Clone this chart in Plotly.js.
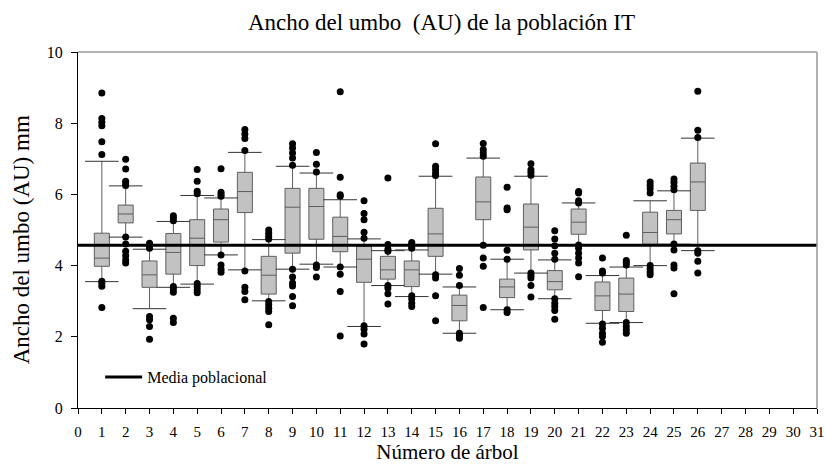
<!DOCTYPE html>
<html>
<head>
<meta charset="utf-8">
<script src="https://cdn.plot.ly/plotly-3.0.1.min.js"></script>
<style>html,body{margin:0;padding:0;background:#fff;}#chart{width:826px;height:466px;}</style>
</head>
<body>
<div id="chart"></div>
<script>
// ---- Data ----
const trees = [1,2,3,4,5,6,7,8,9,10,11,12,13,14,15,16,17,18,19,20,21,22,23,24,25,26];
const q1 =        [3.98,5.20,3.39,3.76,4.00,4.66,5.49,3.20,4.35,4.74,4.39,3.53,3.62,3.41,4.26,2.45,5.29,3.10,4.44,3.32,4.88,2.74,2.71,4.60,4.89,5.55];
const medians =   [4.21,5.45,3.74,4.37,4.77,5.29,6.08,3.73,5.64,5.66,4.82,4.18,3.88,3.88,4.89,2.88,5.79,3.40,5.08,3.55,5.22,3.15,3.20,4.93,5.29,6.35];
const q3 =        [4.91,5.70,4.13,4.90,5.29,5.59,6.62,4.26,6.17,6.17,5.36,4.54,4.26,4.13,5.61,3.17,6.49,3.62,5.73,3.86,5.59,3.54,3.65,5.50,5.55,6.88];
const lowerWhisker = [3.55,4.80,2.79,3.39,3.48,4.30,3.88,3.01,3.90,4.04,3.96,2.29,3.44,3.13,3.76,2.10,4.57,2.76,3.79,3.07,4.58,2.38,2.40,4.00,4.60,4.42];
const upperWhisker = [6.93,6.24,4.46,5.24,5.97,5.90,7.18,4.73,6.79,6.60,5.85,4.75,4.42,4.44,6.51,3.40,7.02,4.18,6.51,4.16,5.76,3.72,3.96,5.82,6.10,7.58];
const outliers = [
  [8.85,8.13,8.03,7.93,7.48,7.12,3.56,3.50,3.42,2.82],
  [6.99,6.71,6.37,6.30,6.25,4.80,4.61,4.40,4.28,4.16,4.07],
  [4.63,4.56,4.49,2.57,2.48,2.29,1.93],
  [5.40,5.34,5.26,3.41,3.34,3.25,2.52,2.40],
  [6.70,6.37,6.09,6.02,3.50,3.41,3.32,3.24],
  [6.72,6.06,6.00,5.95,4.30,4.02,3.90,3.81],
  [7.82,7.70,7.57,7.23,3.85,3.39,3.27,3.04],
  [5.00,4.91,4.82,4.75,2.99,2.90,2.80,2.71,2.34],
  [7.42,7.30,7.16,7.02,6.82,3.90,3.68,3.51,3.43,3.13,2.87],
  [7.18,6.85,6.63,4.02,3.95,3.68],
  [8.88,6.48,5.99,5.95,3.96,3.76,3.27,2.02],
  [5.82,5.46,5.29,4.94,4.77,2.31,2.21,2.08,1.80],
  [6.46,4.59,4.46,4.40,3.44,3.37,3.21,2.92],
  [4.65,4.59,4.54,4.49,3.15,3.06,2.94,2.85],
  [7.42,6.79,6.70,6.60,6.53,3.74,3.65,3.15,2.45],
  [3.92,3.73,3.44,2.10,2.03,1.96],
  [7.43,7.26,7.16,7.07,4.57,4.21,3.98,2.82],
  [6.20,5.62,5.57,4.43,4.18,2.76,2.68],
  [6.86,6.69,6.62,6.54,3.79,3.72,3.65,3.44,3.12],
  [4.98,4.75,4.56,4.35,4.18,3.07,2.94,2.85,2.74,2.49],
  [6.08,6.04,5.82,5.76,4.58,4.49,4.35,4.21,4.07,3.69],
  [4.21,3.85,3.79,2.36,2.24,2.10,2.01,1.85],
  [4.85,4.14,4.09,4.02,2.40,2.29,2.19,2.10],
  [6.35,6.25,6.16,6.04,4.00,3.91,3.82,3.74],
  [6.43,6.34,6.23,6.13,4.61,4.44,4.02,3.93,3.21],
  [8.90,7.80,7.60,4.42,4.35,4.12,3.79]
];
const populationMean = 4.57;
const xTicks = Array.from({length: 32}, (_, i) => i);
const yTicks = [0, 2, 4, 6, 8, 10];

// ---- Build traces ----
const serif = 'Liberation Serif, Times New Roman, serif';
const outX = [], outY = [];
outliers.forEach((vals, i) => vals.forEach(v => { outX.push(trees[i]); outY.push(v); }));

const boxTrace = {
  type: 'box', x: trees, q1: q1, median: medians, q3: q3,
  lowerfence: lowerWhisker, upperfence: upperWhisker,
  boxpoints: false, width: 0.63, whiskerwidth: 0,
  fillcolor: '#c2c2c2', line: {color: '#5e5e5e', width: 1},
  showlegend: false, hoverinfo: 'skip'
};
const capTrace = {
  type: 'scatter', mode: 'markers',
  x: trees.concat(trees), y: lowerWhisker.concat(upperWhisker),
  marker: {symbol: 'line-ew', size: 24, line: {width: 1, color: '#333'}},
  showlegend: false, hoverinfo: 'skip'
};
const outTrace = {
  type: 'scatter', mode: 'markers', x: outX, y: outY,
  marker: {symbol: 'circle', size: 7, color: '#000'},
  showlegend: false, hoverinfo: 'skip'
};
const meanTrace = {
  type: 'scatter', mode: 'lines', x: [xTicks[0], xTicks[xTicks.length-1]], y: [populationMean, populationMean],
  line: {color: '#000', width: 3}, name: 'Media poblacional', showlegend: true, hoverinfo: 'skip'
};

const layout = {
  width: 826, height: 466,
  margin: {l: 78, r: 9, t: 52, b: 58},
  paper_bgcolor: '#fff', plot_bgcolor: '#fff',
  font: {family: serif, color: '#000', size: 15},
  title: {text: 'Ancho del umbo  (AU) de la población IT', font: {family: serif, size: 23, color: '#000'},
          x: 0.5345, xanchor: 'center', y: 0.953, yanchor: 'middle', xref: 'container', yref: 'container'},
  xaxis: {range: [0, 31], tickmode: 'array', tickvals: xTicks, ticktext: xTicks.map(String),
          ticks: 'outside', ticklen: 5, tickcolor: '#000', showline: true, linecolor: '#000', linewidth: 1,
          ticklabelstandoff: 5,
          showgrid: false, zeroline: false, tickfont: {family: serif, size: 15},
          title: {text: 'Número de árbol', font: {family: serif, size: 21}, standoff: 5}},
  yaxis: {range: [0, 10], tickmode: 'array', tickvals: yTicks, ticktext: yTicks.map(String),
          ticks: 'outside', ticklen: 6, tickcolor: '#000', showline: true, linecolor: '#000', linewidth: 1,
          ticklabelstandoff: 5,
          showgrid: false, zeroline: false, tickfont: {family: serif, size: 16}},
  annotations: [
    {text: 'Ancho del umbo (AU) mm', xref: 'paper', yref: 'paper', x: 0, y: 0.471,
     xanchor: 'center', yanchor: 'middle', xshift: -57, textangle: -90, showarrow: false,
     font: {family: serif, size: 23, color: '#000'}}
  ],
  showlegend: true,
  legend: {x: 0.03, y: 0.087, xanchor: 'left', yanchor: 'middle', bgcolor: 'rgba(0,0,0,0)',
           itemwidth: 37, font: {family: serif, size: 16}},
  shapes: [
    {type: 'line', xref: 'paper', yref: 'paper', x0: 0, x1: 1, y0: 1, y1: 1, line: {color: '#999', width: 1.5}},
    {type: 'line', xref: 'paper', yref: 'paper', x0: 1, x1: 1, y0: 0, y1: 1, line: {color: '#999', width: 1.5}}
  ]
};

Plotly.newPlot('chart', [boxTrace, capTrace, outTrace, meanTrace], layout, {displayModeBar: false, staticPlot: true});
</script>
</body>
</html>
